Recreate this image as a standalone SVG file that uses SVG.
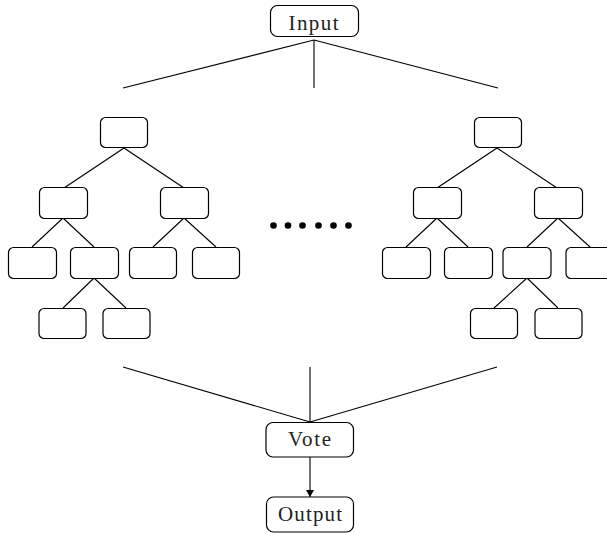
<svg xmlns="http://www.w3.org/2000/svg" width="607" height="533" viewBox="0 0 607 533">
  <defs>
    <style>
      .box { fill: #fff; stroke: #000; stroke-width: 1.2; }
      .edge { stroke: #000; stroke-width: 1.1; fill: none; }
      .lbl { font-family: "Liberation Serif", "DejaVu Serif", serif; font-size: 21px; fill: #222; text-anchor: middle; }
      .dot { fill: #000; }
    </style>
    <marker id="arrow" viewBox="0 0 7 9" refX="7" refY="4.5" markerWidth="7" markerHeight="9" markerUnits="userSpaceOnUse" orient="auto">
      <path d="M0,0.5 L7,4.5 L0,8.5 Z" fill="#000"/>
    </marker>
  </defs>
  <rect width="607" height="533" fill="#fff"/>

  <!-- connectors -->
  <g id="connectors">
    <!-- input fan-out -->
    <line class="edge" x1="314" y1="40" x2="123" y2="88"/>
    <line class="edge" x1="314" y1="40" x2="314" y2="88"/>
    <line class="edge" x1="314" y1="40" x2="498" y2="88"/>
    <!-- left tree -->
    <line class="edge" x1="124" y1="148" x2="64" y2="188"/>
    <line class="edge" x1="124" y1="148" x2="184" y2="188"/>
    <line class="edge" x1="63" y1="218" x2="32" y2="247"/>
    <line class="edge" x1="63" y1="218" x2="94" y2="247"/>
    <line class="edge" x1="184" y1="218" x2="153" y2="247"/>
    <line class="edge" x1="184" y1="218" x2="216" y2="247"/>
    <line class="edge" x1="94" y1="278" x2="63" y2="308"/>
    <line class="edge" x1="94" y1="278" x2="126" y2="308"/>
    <!-- right tree -->
    <line class="edge" x1="497" y1="148" x2="437" y2="188"/>
    <line class="edge" x1="497" y1="148" x2="557" y2="188"/>
    <line class="edge" x1="437" y1="218" x2="406" y2="247"/>
    <line class="edge" x1="437" y1="218" x2="468" y2="247"/>
    <line class="edge" x1="558" y1="218" x2="527" y2="247"/>
    <line class="edge" x1="558" y1="218" x2="590" y2="247"/>
    <line class="edge" x1="527" y1="278" x2="494" y2="308"/>
    <line class="edge" x1="527" y1="278" x2="558" y2="308"/>
    <!-- vote fan-in -->
    <line class="edge" x1="123" y1="367" x2="310" y2="422"/>
    <line class="edge" x1="310" y1="367" x2="310" y2="422"/>
    <line class="edge" x1="497" y1="367" x2="310" y2="422"/>
    <!-- vote to output -->
    <line class="edge" x1="310" y1="457" x2="310" y2="497" marker-end="url(#arrow)"/>
  </g>

  <g id="input">
    <rect class="box" x="270.5" y="5.5" width="88" height="31" rx="7"/>
    <text class="lbl" x="313.5" y="29.5" textLength="50" lengthAdjust="spacing">Input</text>
  </g>

  <!-- left tree nodes -->
  <g id="l-root"><rect class="box" x="100.5" y="117.5" width="47" height="30" rx="5"/></g>
  <g id="l-a"><rect class="box" x="39.5" y="187.5" width="48" height="31" rx="5"/></g>
  <g id="l-b"><rect class="box" x="160.5" y="187.5" width="48" height="31" rx="5"/></g>
  <g id="l-aa"><rect class="box" x="8.5" y="247.5" width="48" height="31" rx="5"/></g>
  <g id="l-ab"><rect class="box" x="70.5" y="247.5" width="48" height="31" rx="5"/></g>
  <g id="l-ba"><rect class="box" x="129.5" y="247.5" width="47" height="31" rx="5"/></g>
  <g id="l-bb"><rect class="box" x="192.5" y="247.5" width="47" height="31" rx="5"/></g>
  <g id="l-aba"><rect class="box" x="39" y="308.5" width="47" height="30" rx="5"/></g>
  <g id="l-abb"><rect class="box" x="103" y="308.5" width="47" height="30" rx="5"/></g>

  <!-- ellipsis between the trees -->
  <g id="ellipsis">
    <circle class="dot" cx="273.5" cy="225.5" r="3.3"/>
    <circle class="dot" cx="288" cy="225.5" r="3.3"/>
    <circle class="dot" cx="302.5" cy="225.5" r="3.3"/>
    <circle class="dot" cx="318.5" cy="225.5" r="3.3"/>
    <circle class="dot" cx="333.5" cy="225.5" r="3.3"/>
    <circle class="dot" cx="348.5" cy="225.5" r="3.3"/>
  </g>

  <!-- right tree nodes -->
  <g id="r-root"><rect class="box" x="474.5" y="117.5" width="47" height="30" rx="5"/></g>
  <g id="r-a"><rect class="box" x="413.5" y="187.5" width="48" height="31" rx="5"/></g>
  <g id="r-b"><rect class="box" x="534.5" y="187.5" width="48" height="31" rx="5"/></g>
  <g id="r-aa"><rect class="box" x="382.5" y="247.5" width="48" height="31" rx="5"/></g>
  <g id="r-ab"><rect class="box" x="444.5" y="247.5" width="48" height="31" rx="5"/></g>
  <g id="r-ba"><rect class="box" x="503" y="247.5" width="48" height="31" rx="5"/></g>
  <g id="r-bb"><rect class="box" x="566" y="247.5" width="48" height="31" rx="5"/></g>
  <g id="r-baa"><rect class="box" x="470.5" y="308.5" width="47" height="30" rx="5"/></g>
  <g id="r-bab"><rect class="box" x="535" y="308.5" width="47" height="30" rx="5"/></g>

  <g id="vote">
    <rect class="box" x="266" y="422.5" width="87.5" height="34.5" rx="7"/>
    <text class="lbl" x="309.5" y="446" textLength="43" lengthAdjust="spacing">Vote</text>
  </g>

  <g id="output">
    <rect class="box" x="266.5" y="497" width="87" height="35" rx="7"/>
    <text class="lbl" x="310" y="521" textLength="64" lengthAdjust="spacing">Output</text>
  </g>
</svg>
